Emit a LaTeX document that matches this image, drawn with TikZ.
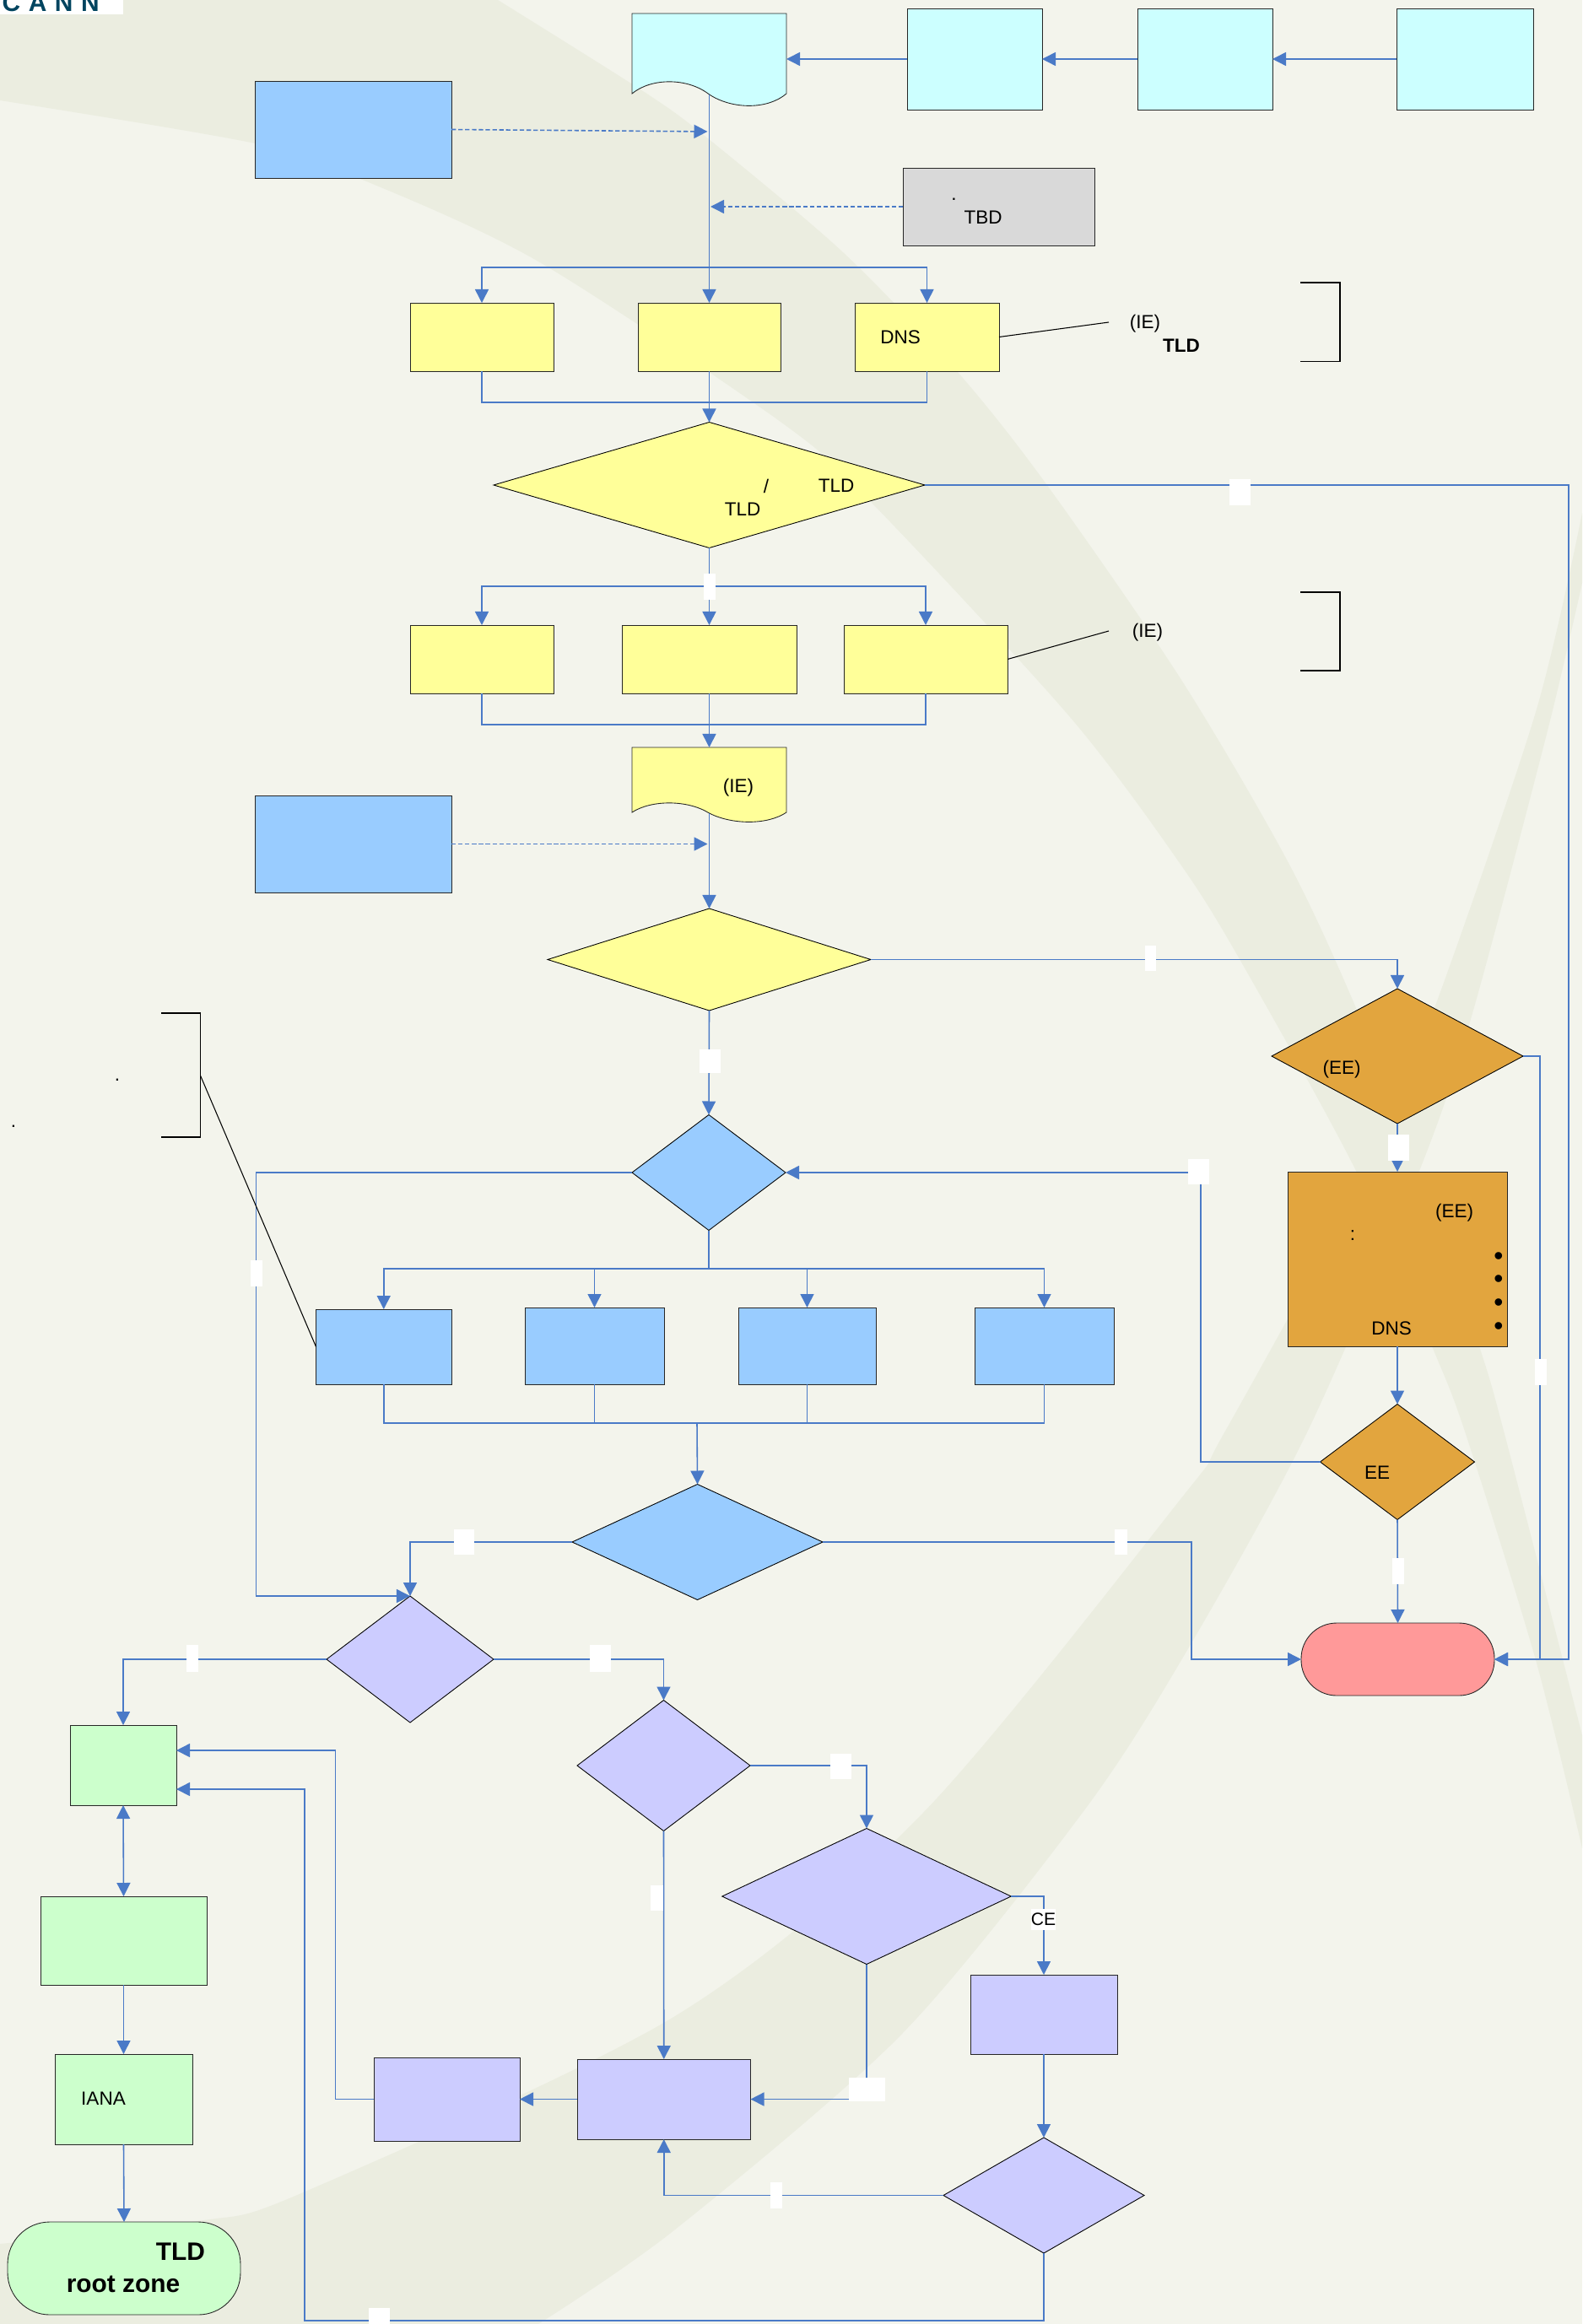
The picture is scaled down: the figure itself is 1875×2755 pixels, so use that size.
\documentclass[tikz,border=0pt]{standalone}
\usepackage{fontspec}
\setmainfont{Liberation Sans}
\usetikzlibrary{arrows.meta,shapes.geometric}
\definecolor{bgcol}{HTML}{F3F4EC}
\definecolor{bandcol}{HTML}{EBEDE0}
\definecolor{flowcol}{HTML}{4A7AC7}
\definecolor{cyancol}{HTML}{CCFFFF}
\definecolor{bluecol}{HTML}{99CCFF}
\definecolor{yellowcol}{HTML}{FFFF99}
\definecolor{graycol}{HTML}{D9D9D9}
\definecolor{orangecol}{HTML}{E2A53E}
\definecolor{purplecol}{HTML}{CCCCFF}
\definecolor{greencol}{HTML}{CCFFCC}
\definecolor{redcol}{HTML}{FF9999}
\definecolor{logocol}{HTML}{00445F}
\tikzset{
  sized/.style 2 args={minimum width=#1*0.01cm,minimum height=#2*0.01cm},
  box/.style={rectangle,draw=black!85,line width=.25pt,inner sep=0pt,outer sep=0pt},
  dia/.style={diamond,draw=black,line width=.25pt,inner sep=0pt,outer sep=0pt},
  flow/.style={draw=flowcol,line width=.45pt,-{Triangle[length=1.6mm,width=1.6mm]}},
  plain/.style={draw=flowcol,line width=.45pt},
  hint/.style={flow,dashed,dash pattern=on 1.5pt off .8pt},
  note/.style={draw=black,line width=.3pt},
  tag/.style={fill=white,inner sep=0pt,outer sep=0pt},
  txt/.style={inner sep=0pt,font=\fontsize{6.4}{7.5}\selectfont},
  bigtxt/.style={inner sep=0pt,font=\fontsize{8.5}{10}\selectfont\bfseries}
}
\begin{document}
\begin{tikzpicture}[x=0.01cm,y=-0.01cm]
    \useasboundingbox (0,0) rectangle (1875,2755);
    \fill[bgcol] (0,0) rectangle (1875,2755);
    % the two pale bands behind the chart
    \fill[bandcol] (0,0) -- plot[smooth] coordinates {(590,0) (765,110) (840,165)
      (1000,300) (1134,440) (1240,574) (1400,806) (1527,1023) (1607,1195)
      (1682,1388) (1753,1596) (1783,1700) (1875,2057)}
      -- plot[smooth] coordinates {(1875,2191) (1820,1968) (1737,1700) (1697,1596)
      (1607,1388) (1473,1144) (1400,1026) (1268,850) (1033,596) (925,500)
      (638,310) (427,212) (302,170) (0,119)} -- cycle;
    \fill[bandcol] plot[smooth] coordinates {(0,2660) (235,2633) (357,2600) (800,2390)
      (1093,2150) (1400,1776) (1450,1700) (1620,1388) (1700,1195) (1820,844) (1875,608)}
      -- plot[smooth] coordinates {(1875,691) (1833,870) (1743,1208) (1682,1388)
      (1548,1700) (1400,1968) (1282,2150) (1068,2412) (800,2643) (638,2755)}
      -- (0,2755) -- cycle;

    \node[tag,sized={146}{17}] (logobox) at (73,8.5) {};
    \node[anchor=base west,inner sep=0pt,text=logocol,font=\fontsize{8.5}{10}\selectfont\bfseries\addfontfeature{LetterSpace=32}] (logo) at (2,14) {CANN};

    % top row
    \node[box,fill=cyancol,sized={160}{120}] (feed1) at (1155,70) {};
    \node[box,fill=cyancol,sized={160}{120}] (feed2) at (1428,70) {};
    \node[box,fill=cyancol,sized={162}{120}] (feed3) at (1736,70) {};
    \draw[box,fill=cyancol] (749,16) -- (932,16) -- (932,111)
      .. controls (910,130) and (868,130) .. (840.5,112)
      .. controls (815,92) and (772,92) .. (749,111) -- cycle;
    \coordinate (doc1in) at (932,70);
    \coordinate (doc1out) at (840.5,112);
    \node[box,fill=bluecol,sized={233}{115}] (input1) at (418.5,153.5) {};
    \coordinate (input1tip) at (838.5,156);
    \node[box,fill=graycol,sized={227}{92}] (pending) at (1183.5,245) {};
    \coordinate (pendingtip) at (842,245);

    % first review row
    \coordinate (split1) at (840.5,317);
    \coordinate (join1) at (840.5,477);
    \node[box,fill=yellowcol,sized={170}{81}] (check1) at (571,399.5) {};
    \node[box,fill=yellowcol,sized={169}{81}] (check2) at (840.5,399.5) {};
    \node[box,fill=yellowcol,sized={171}{81}] (check3) at (1098.5,399.5) {};
    \node[dia,fill=yellowcol,sized={511}{149}] (gate1) at (840.5,575) {};

    % second review row
    \coordinate (split2) at (840.5,695);
    \coordinate (join2) at (840.5,859);
    \node[box,fill=yellowcol,sized={170}{81}] (eval1) at (571,781.5) {};
    \node[box,fill=yellowcol,sized={207}{81}] (eval2) at (840.5,781.5) {};
    \node[box,fill=yellowcol,sized={194}{81}] (eval3) at (1097,781.5) {};
    \draw[box,fill=yellowcol] (749,886) -- (932,886) -- (932,963)
      .. controls (910,978) and (868,978) .. (840.5,964)
      .. controls (815,948) and (772,948) .. (749,963) -- cycle;
    \coordinate (doc2in) at (840.5,886);
    \coordinate (doc2out) at (840.5,964);
    \node[box,fill=bluecol,sized={233}{115}] (input2) at (418.5,1000.5) {};
    \coordinate (input2tip) at (838.5,1000.5);
    \node[dia,fill=yellowcol,sized={383}{121}] (gate2) at (840.5,1137.5) {};

    % extended evaluation
    \node[dia,fill=orangecol,sized={298}{160}] (ext1) at (1656,1252) {};
    \node[box,fill=orangecol,sized={260}{207}] (ext2) at (1656,1492.5) {};
    \node[dia,fill=orangecol,sized={183}{137}] (ext3) at (1656,1733) {};
    \node[box,fill=redcol,sized={229}{86},rounded corners=.42cm] (stop) at (1656.5,1967) {};
    \coordinate (extturn) at (1423,1390);
    \coordinate (extbar) at (1825,1967);
    \coordinate (gatebar) at (1859,1967);

    % contracting
    \node[dia,fill=bluecol,sized={182}{137}] (sign1) at (840,1390) {};
    \coordinate (split3) at (840,1504);
    \coordinate (join3) at (826,1687);
    \node[box,fill=bluecol,sized={160.5}{89}] (step1) at (454.75,1596.5) {};
    \node[box,fill=bluecol,sized={165}{91}] (step2) at (704.5,1595.5) {};
    \node[box,fill=bluecol,sized={163}{91}] (step3) at (956.5,1595.5) {};
    \node[box,fill=bluecol,sized={165}{91}] (step4) at (1237.5,1595.5) {};
    \node[dia,fill=bluecol,sized={297}{137}] (sign2) at (826.5,1828) {};
    \coordinate (signturn) at (303.5,1390);
    \coordinate (signdrop) at (303.5,1892);
    \coordinate (stopturn) at (1412,1967);

    % pre-delegation
    \node[dia,fill=purplecol,sized={198}{150}] (pre1) at (486,1967) {};
    \node[dia,fill=purplecol,sized={205}{155}] (pre2) at (786.5,2093) {};
    \node[dia,fill=purplecol,sized={342.5}{161}] (pre3) at (1027,2248) {};
    \node[box,fill=purplecol,sized={174}{94}] (pre4) at (1237,2388) {};
    \node[dia,fill=purplecol,sized={238}{137}] (pre5) at (1237,2602.5) {};
    \node[box,fill=purplecol,sized={205.5}{95}] (pre6) at (786.75,2488.5) {};
    \node[box,fill=purplecol,sized={173}{99}] (pre7) at (529.5,2488.5) {};
    \coordinate (pre3turn) at (1027,2488.5);
    \coordinate (pre5low) at (1237,2751);
    \coordinate (pre5far) at (361,2751);
    \coordinate (pre5in) at (361,2121);
    \coordinate (pre7up) at (397.5,2488.5);
    \coordinate (pre7in) at (397.5,2075);

    % delegation
    \node[box,fill=greencol,sized={126}{95}] (deleg1) at (146,2092.5) {};
    \node[box,fill=greencol,sized={197}{105}] (deleg2) at (146.5,2300.5) {};
    \node[box,fill=greencol,sized={163}{107}] (deleg3) at (146.5,2488.5) {};
    \node[box,fill=greencol,sized={276}{110},rounded corners=.5cm] (deleg4) at (147,2689) {};

    % connectors
    \draw[flow] (feed3.west) -- (feed2.east);
    \draw[flow] (feed2.west) -- (feed1.east);
    \draw[flow] (feed1.west) -- (doc1in);
    \draw[flow] (doc1out) -- (check2.north);
    \draw[hint] (input1.east) -- (input1tip);
    \draw[hint] (pending.west) -- (pendingtip);
    \draw[flow] (split1) -| (check1.north);
    \draw[flow] (split1) -| (check3.north);
    \draw[plain] (check1.south) |- (join1);
    \draw[plain] (check3.south) |- (join1);
    \draw[flow] (check2.south) -- (gate1.north);
    \draw[flow] (gate1.south) -- (eval2.north);
    \draw[flow] (split2) -| (eval1.north);
    \draw[flow] (split2) -| (eval3.north);
    \draw[plain] (eval1.south) |- (join2);
    \draw[plain] (eval3.south) |- (join2);
    \draw[flow] (eval2.south) -- (doc2in);
    \draw[flow] (doc2out) -- (gate2.north);
    \draw[hint] (input2.east) -- (input2tip);
    \draw[flow] (gate2.east) -| (ext1.north);
    \draw[flow] (gate2.south) -- (sign1.north);
    \draw[flow] (gate1.east) -| (gatebar) -- (stop.east);
    \draw[flow] (ext1.east) -| (extbar) -- (stop.east);
    \draw[flow] (ext1.south) -- (ext2.north);
    \draw[flow] (ext2.south) -- (ext3.north);
    \draw[flow] (ext3.south) -- (stop.north);
    \draw[flow] (ext3.west) -| (extturn) -- (sign1.east);
    \draw[plain] (sign1.south) -- (split3);
    \draw[flow] (split3) -| (step1.north);
    \draw[flow] (split3) -| (step2.north);
    \draw[flow] (split3) -| (step3.north);
    \draw[flow] (split3) -| (step4.north);
    \draw[plain] (step1.south) |- (join3);
    \draw[plain] (step2.south) |- (join3);
    \draw[plain] (step3.south) |- (join3);
    \draw[plain] (step4.south) |- (join3);
    \draw[flow] (join3) -- (sign2.north);
    \draw[flow] (sign2.east) -| (stopturn) -- (stop.west);
    \draw[flow] (sign2.west) -| (pre1.north);
    \draw[flow] (sign1.west) -- (signturn) -- (signdrop) -- (pre1.north);
    \draw[flow] (pre1.west) -| (deleg1.north);
    \draw[flow] (pre1.east) -| (pre2.north);
    \draw[flow] (pre2.east) -| (pre3.north);
    \draw[flow] (pre2.south) -- (pre6.north);
    \draw[flow] (pre3.east) -| (pre4.north);
    \draw[flow] (pre3.south) -- (pre3turn) -- (pre6.east);
    \draw[flow] (pre4.south) -- (pre5.north);
    \draw[flow] (pre5.west) -| (pre6.south);
    \draw[flow] (pre6.west) -- (pre7.east);
    \draw[flow] (pre7.west) -- (pre7up) -- (pre7in) -- (pre7in -| deleg1.east);
    \draw[flow] (pre5.south) -- (pre5low) -- (pre5far) -- (pre5in) -- (pre5in -| deleg1.east);
    \draw[flow,{Triangle[length=1.6mm,width=1.6mm]}-{Triangle[length=1.6mm,width=1.6mm]}] (deleg1.south) -- (deleg2.north);
    \draw[flow] (deleg2.south) -- (deleg3.north);
    \draw[flow] (deleg3.south) -- (deleg4.north);

    % brackets and their leaders
    \coordinate (lead1) at (1314,382);
    \coordinate (lead2) at (1314,748);
    \coordinate (lead3) at (237.5,1275);
    \draw[note] (check3.east) -- (lead1);
    \draw[note] (eval3.east) -- (lead2);
    \draw[note] (step1.west) -- (lead3);
    \draw[note] (1541,335) -- (1588,335) -- (1588,428.6) -- (1541,428.6);
    \draw[note] (1541,702) -- (1588,702) -- (1588,795) -- (1541,795);
    \draw[note] (191,1201) -- (237.5,1201) -- (237.5,1348) -- (191,1348);

    % blanked branch labels
    \node[tag,sized={25}{31}] (tag1) at (1469.5,583.5) {};
    \node[tag,sized={14}{31}] (tag2) at (841,695.5) {};
    \node[tag,sized={13}{30}] (tag3) at (1363.5,1136) {};
    \node[tag,sized={25}{28}] (tag4) at (841.5,1258) {};
    \node[tag,sized={25}{31}] (tag5) at (1657.5,1360.5) {};
    \node[tag,sized={14}{31}] (tag6) at (1826,1626.5) {};
    \node[tag,sized={25}{30}] (tag7) at (1420.5,1389) {};
    \node[tag,sized={14}{31}] (tag8) at (304,1509.5) {};
    \node[tag,sized={14}{31}] (tag9) at (1657,1862.5) {};
    \node[tag,sized={15}{30}] (tag10) at (1328.5,1828) {};
    \node[tag,sized={24}{30}] (tag11) at (550,1828) {};
    \node[tag,sized={14}{32}] (tag12) at (228,1966) {};
    \node[tag,sized={25}{32}] (tag13) at (711.5,1966) {};
    \node[tag,sized={25}{30}] (tag14) at (996.5,2094) {};
    \node[tag,sized={15}{30}] (tag15) at (778.5,2250) {};
    \node[tag,sized={43}{28}] (tag16) at (1027.5,2477) {};
    \node[tag,sized={14}{31}] (tag17) at (920,2602.5) {};
    \node[tag,sized={25}{19}] (tag18) at (449.5,2745.5) {};
    \node[tag,sized={29}{25},txt,font=\fontsize{6}{7}\selectfont] (tagce) at (1236.5,2275.5) {CE};

    % texts left in the shapes
    \node[txt] (dot1) at (1130.6,236) {.};
    \node[txt] (tbd) at (1165,257.5) {TBD};
    \node[txt] (dns1) at (1067,399.5) {DNS};
    \node[txt] (ie1) at (1357,383.5) {(IE)};
    \node[txt,font=\fontsize{6.4}{7.5}\selectfont\bfseries] (tld1) at (1400,409.5) {TLD};
    \node[txt] (slash) at (908,576) {/};
    \node[txt] (tld2) at (991,576) {TLD};
    \node[txt] (tld3) at (880,604) {TLD};
    \node[txt] (ie2) at (1360,749.5) {(IE)};
    \node[txt] (ie3) at (875,933.5) {(IE)};
    \node[txt] (dot2) at (139,1280) {.};
    \node[txt] (dot3) at (16,1335) {.};
    \node[txt] (ee1) at (1590,1267.5) {(EE)};
    \node[txt] (ee2) at (1723.5,1437.5) {(EE)};
    \node[txt] (colon) at (1603,1465) {:};
    \node[txt,font=\fontsize{9}{10}\selectfont] (bull1) at (1776,1492) {•};
    \node[txt,font=\fontsize{9}{10}\selectfont] (bull2) at (1776,1519) {•};
    \node[txt,font=\fontsize{9}{10}\selectfont] (bull3) at (1776,1547) {•};
    \node[txt,font=\fontsize{9}{10}\selectfont] (bull4) at (1776,1575) {•};
    \node[txt] (dns2) at (1649,1575) {DNS};
    \node[txt] (ee3) at (1632,1746) {EE};
    \node[txt] (iana) at (122.5,2487.5) {IANA};
    \node[bigtxt] (tld4) at (214,2669.5) {TLD};
    \node[bigtxt] (rootzone) at (146,2708) {root zone};
  \end{tikzpicture}
\end{document}
